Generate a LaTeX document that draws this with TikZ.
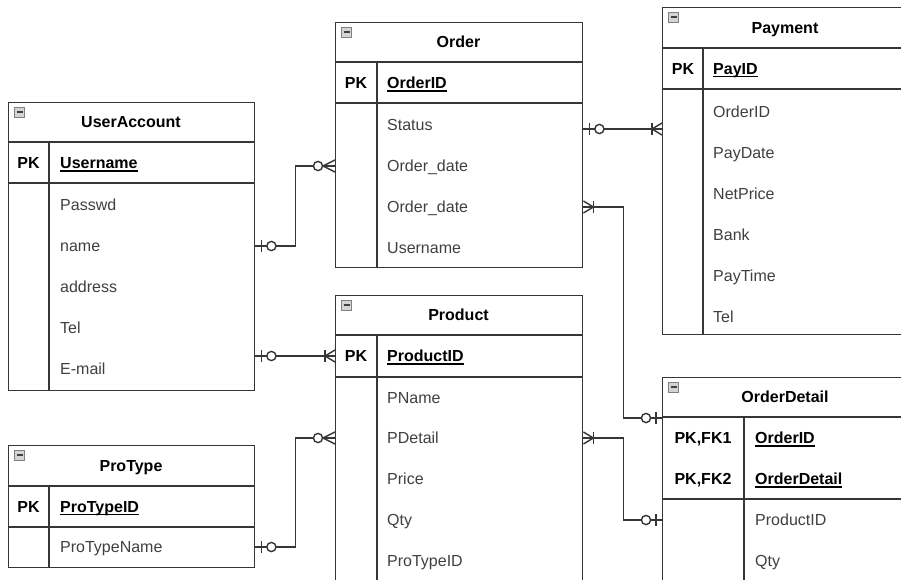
\documentclass[tikz,border=0pt]{standalone}
\usepackage{fontspec}
\setmainfont{Liberation Sans}
\definecolor{ln}{HTML}{363636}
\definecolor{tx}{HTML}{404040}
\definecolor{iconfill}{HTML}{D4D4D4}
\newcommand\keyu[1]{\setbox0\hbox{#1}\rlap{\rule[-2.8pt]{\wd0}{1.1pt}}\box0}
\tikzset{
  tline/.style={draw=ln, line width=1.4pt},
  tbox/.style={draw=ln, line width=1.4pt, fill=white, rectangle, inner sep=0pt, anchor=north west},
  ttitle/.style={font=\fontsize{16}{19}\selectfont\bfseries, text=black, inner sep=0pt, text height=11.4pt, text depth=0pt},
  pkl/.style={font=\fontsize{16}{19}\selectfont\bfseries, text=black, inner sep=0pt, text height=11.4pt, text depth=0pt},
  fld/.style={font=\fontsize{16}{19}\selectfont, text=tx, anchor=west, inner sep=0pt, text height=11.4pt, text depth=0pt},
  keyf/.style={fld, font=\fontsize{16}{19}\selectfont\bfseries, text=black},
  icon/.style={draw=gray, fill=iconfill, line width=0.6pt, minimum width=10pt, minimum height=10pt, inner sep=0pt,
    path picture={\draw[line width=1.4pt, black!75] ([xshift=2pt]path picture bounding box.west) -- ([xshift=-2pt]path picture bounding box.east);}},
  conn/.style={draw=ln, line width=1.4pt},
  zeroone/.pic={\draw[conn] (6,-6) -- (6,6); \draw[conn, fill=white] (16,0) circle (4.6pt);},
  zeromany/.pic={\draw[conn] (0,-6) -- (12,0) -- (0,6); \draw[conn] (0,0) -- (12,0); \draw[conn, fill=white] (17,0) circle (4.6pt);},
  onemany/.pic={\draw[conn] (0,-6) -- (10,0) -- (0,6); \draw[conn] (0,0) -- (10,0); \draw[conn] (10,-6) -- (10,6);},
}
\begin{document}
\begin{tikzpicture}[x=1pt, y=-1pt]
\useasboundingbox (0,0) rectangle (901,579);
\clip (0,0) rectangle (901,579);
\fill[white] (0,0) rectangle (901,579);

% ---------- UserAccount ----------
\node[tbox, minimum width=246pt, minimum height=288pt] (ua) at (8,102) {};
\draw[tline] (8,142) -- (254,142) (8,183) -- (254,183) (49,142) -- (49,390);
\node[icon] (ua-i) at (19.5,112) {};
\node[ttitle] (ua-t) at (131,122) {UserAccount};
\node[pkl] (ua-pk) at (28.5,163) {PK};
\node[keyf] (ua-username) at (60,163) {\keyu{Username}};
\node[fld] (ua-passwd) at (60,205) {Passwd};
\node[fld] (ua-name) at (60,246) {name};
\node[fld] (ua-address) at (60,287) {address};
\node[fld] (ua-tel) at (60,328) {Tel};
\node[fld] (ua-email) at (60,369) {E-mail};

% ---------- Order ----------
\node[tbox, minimum width=247pt, minimum height=245pt] (ord) at (335,22) {};
\draw[tline] (335,62) -- (582,62) (335,103) -- (582,103) (377,62) -- (377,267);
\node[icon] (ord-i) at (346.5,32) {};
\node[ttitle] (ord-t) at (458.5,42) {Order};
\node[pkl] (ord-pk) at (356,83) {PK};
\node[keyf] (ord-id) at (387,83) {\keyu{OrderID}};
\node[fld] (ord-status) at (387,125) {Status};
\node[fld] (ord-date1) at (387,166) {Order\_date};
\node[fld] (ord-date2) at (387,207) {Order\_date};
\node[fld] (ord-user) at (387,248) {Username};

% ---------- Payment ----------
\node[tbox, minimum width=246pt, minimum height=327pt] (pay) at (662,7) {};
\draw[tline] (662,48) -- (908,48) (662,89) -- (908,89) (703,48) -- (703,334);
\node[icon] (pay-i) at (673.5,17) {};
\node[ttitle] (pay-t) at (785,28) {Payment};
\node[pkl] (pay-pk) at (683,68.5) {PK};
\node[keyf] (pay-id) at (713,68.5) {\keyu{PayID}};
\node[fld] (pay-orderid) at (713,112) {OrderID};
\node[fld] (pay-date) at (713,153) {PayDate};
\node[fld] (pay-net) at (713,194) {NetPrice};
\node[fld] (pay-bank) at (713,235) {Bank};
\node[fld] (pay-time) at (713,276) {PayTime};
\node[fld] (pay-tel) at (713,317) {Tel};

% ---------- Product ----------
\node[tbox, minimum width=247pt, minimum height=305pt] (pr) at (335,295) {};
\draw[tline] (335,335) -- (582,335) (335,377) -- (582,377) (377,335) -- (377,600);
\node[icon] (pr-i) at (346.5,305) {};
\node[ttitle] (pr-t) at (458.5,315) {Product};
\node[pkl] (pr-pk) at (356,356) {PK};
\node[keyf] (pr-id) at (387,356) {\keyu{ProductID}};
\node[fld] (pr-name) at (387,398) {PName};
\node[fld] (pr-detail) at (387,438) {PDetail};
\node[fld] (pr-price) at (387,479) {Price};
\node[fld] (pr-qty) at (387,520) {Qty};
\node[fld] (pr-type) at (387,561) {ProTypeID};

% ---------- ProType ----------
\node[tbox, minimum width=246pt, minimum height=122pt] (pt) at (8,445) {};
\draw[tline] (8,486) -- (254,486) (8,527) -- (254,527) (49,486) -- (49,567);
\node[icon] (pt-i) at (19.5,455) {};
\node[ttitle] (pt-t) at (131,465.5) {ProType};
\node[pkl] (pt-pk) at (28.5,506.5) {PK};
\node[keyf] (pt-id) at (60,506.5) {\keyu{ProTypeID}};
\node[fld] (pt-name) at (60,547) {ProTypeName};

% ---------- OrderDetail ----------
\node[tbox, minimum width=246pt, minimum height=223pt] (od) at (662,377) {};
\draw[tline] (662,417) -- (908,417) (662,499) -- (908,499) (744,417) -- (744,600);
\coordinate (od-h) at (662,418);
\node[icon] (od-i) at (673.5,387) {};
\node[ttitle] (od-t) at (785,397) {OrderDetail};
\node[pkl] (od-pk1) at (703,438) {PK,FK1};
\node[keyf] (od-id) at (755,438) {\keyu{OrderID}};
\node[pkl] (od-pk2) at (703,479) {PK,FK2};
\node[keyf] (od-detail) at (755,479) {\keyu{OrderDetail}};
\node[fld] (od-prodid) at (755,520) {ProductID};
\node[fld] (od-qty) at (755,561) {Qty};

% ---------- connectors ----------
\path (ord.east |- ord-status) ++(0,4) coordinate (c-op);

\draw[conn] (ua.east |- ua-name) -- ++(40,0) |- (ord.west |- ord-date1);
\draw[conn] (ua.east |- pr-id) -- (pr.west |- pr-id);
\draw[conn] (pt.east |- pt-name) -- ++(40,0) |- (pr.west |- pr-detail);
\draw[conn] (c-op) -- (pay.west |- c-op);
\draw[conn] (ord.east |- ord-date2) -- ++(40,0) |- (od.west |- od-h);
\draw[conn] (pr.east |- pr-detail) -- ++(40,0) |- (od.west |- od-prodid);

\pic at (ua.east |- ua-name) {zeroone};
\pic[rotate=180] at (ord.west |- ord-date1) {zeromany};
\pic at (ua.east |- pr-id) {zeroone};
\pic[rotate=180] at (pr.west |- pr-id) {onemany};
\pic at (pt.east |- pt-name) {zeroone};
\pic[rotate=180] at (pr.west |- pr-detail) {zeromany};
\pic at (c-op) {zeroone};
\pic[rotate=180] at (pay.west |- c-op) {onemany};
\pic at (ord.east |- ord-date2) {onemany};
\pic[rotate=180] at (od.west |- od-h) {zeroone};
\pic at (pr.east |- pr-detail) {onemany};
\pic[rotate=180] at (od.west |- od-prodid) {zeroone};
\end{tikzpicture}
\end{document}
